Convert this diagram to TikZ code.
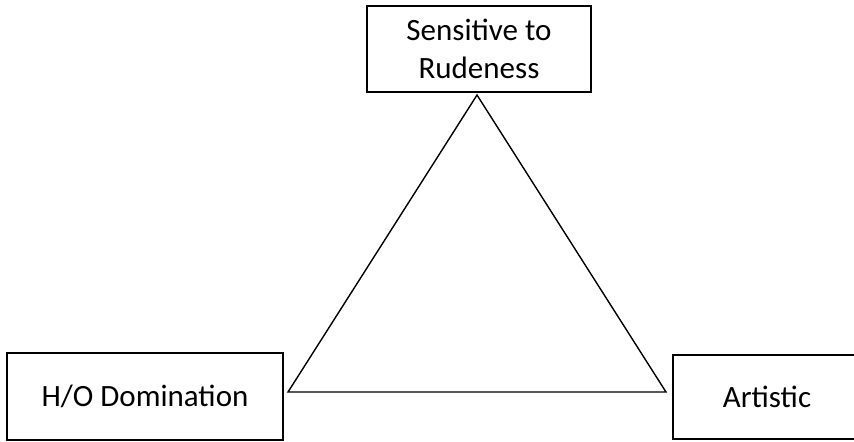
\documentclass[tikz,border=0pt]{standalone}
\usepackage{fontspec}
\setmainfont{Carlito}
\usepackage{tikz}
\usetikzlibrary{positioning}
\tikzstyle{trait}=[draw, line width=1pt, align=center, inner sep=0pt,
  font=\fontsize{15.5}{19}\selectfont]

\begin{document}
\begin{tikzpicture}[x=0.5pt, y=-0.5pt]
                    \clip (0,0) rectangle (854,441);
                    \node [trait, minimum width=112pt, minimum height=43pt] (rude) at (479,49) {Sensitive to\\Rudeness};
                    \node [trait, minimum width=138pt, minimum height=43.5pt] (dom) at (145,396.5) {H/O Domination};
                    \node [trait, minimum width=94pt, minimum height=42pt] (art) at (767,397) {Artistic};
                    \coordinate (top) at (477,95);
                    \coordinate (left) at (288,392);
                    \coordinate (right) at (666,392);
                    \draw [line width=0.7pt] (top) -- (left) -- (right) -- cycle;
                \end{tikzpicture}
\end{document}
